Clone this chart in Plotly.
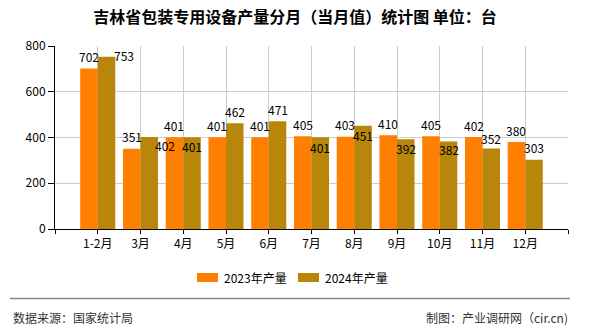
import plotly.graph_objects as go

# Monthly output data (units: 台)
categories = ["1-2月", "3月", "4月", "5月", "6月", "7月", "8月", "9月", "10月", "11月", "12月"]
output_2023 = [702, 351, 401, 401, 401, 405, 403, 410, 405, 402, 380]
output_2024 = [753, 402, 401, 462, 471, 401, 451, 392, 382, 352, 303]
series_names = ["2023年产量", "2024年产量"]
y_ticks = [0, 200, 400, 600, 800]

# Styling
COLOR_2023 = "#FF8000"
COLOR_2024 = "#B8860B"
FONT = "SimSun, 'Noto Sans CJK SC', sans-serif"
W, H = 590, 330
L, R, T, B = 55, 22, 46, 101
BARGAP = 0.18
# label offsets (px) relative to the top centre of each 2024 bar
label_shift_2024 = [(17, 1), (16, -8), (0, -9), (0, 12), (0, 12), (0, -10),
                    (0, -10), (0, -9), (0, -8), (0, 10), (0, 12)]

xs = list(range(len(categories)))
half = (1 - BARGAP) / 4  # centre offset of each bar inside a group

fig = go.Figure()
fig.add_trace(go.Bar(x=xs, y=output_2023, name=series_names[0],
                     marker=dict(color=COLOR_2023, line=dict(width=0)), showlegend=False))
fig.add_trace(go.Bar(x=xs, y=output_2024, name=series_names[1],
                     marker=dict(color=COLOR_2024, line=dict(width=0)), showlegend=False))

annotations = []
for i, v in enumerate(output_2023):
    annotations.append(dict(x=i - half, y=v, xref="x", yref="y", text=str(v),
                            showarrow=False, yanchor="middle", xanchor="center",
                            yshift=12, font=dict(family=FONT, size=12, color="#000")))
for i, v in enumerate(output_2024):
    dx, dy = label_shift_2024[i]
    annotations.append(dict(x=i + half, y=v, xref="x", yref="y", text=str(v),
                            showarrow=False, yanchor="middle", xanchor="center",
                            xshift=dx, yshift=dy, font=dict(family=FONT, size=12, color="#000")))

pw, ph = W - L - R, H - T - B
def px(x):
    return (x - L) / pw
def py(y):
    return (H - B - y) / ph

shapes = []
# custom legend
legend_items = [(197, COLOR_2023, series_names[0]), (298, COLOR_2024, series_names[1])]
for x0, col, name in legend_items:
    shapes.append(dict(type="rect", xref="paper", yref="paper",
                       x0=px(x0), x1=px(x0 + 21), y0=py(282), y1=py(273),
                       fillcolor=col, line=dict(width=0)))
    annotations.append(dict(x=px(x0 + 25), y=py(277.5), xref="paper", yref="paper",
                            text=name, showarrow=False, xanchor="left", yanchor="middle",
                            font=dict(family=FONT, size=12, color="#000")))
# footer separator
shapes.append(dict(type="line", xref="paper", yref="paper",
                   x0=px(10), x1=px(570), y0=py(298.5), y1=py(298.5),
                   line=dict(color="#888888", width=1.5)))
annotations.append(dict(x=px(11), y=py(317), xref="paper", yref="paper",
                        text="数据来源：国家统计局", showarrow=False,
                        xanchor="left", yanchor="middle",
                        font=dict(family=FONT, size=12, color="#333")))
annotations.append(dict(x=px(570), y=py(317), xref="paper", yref="paper",
                        text="制图：产业调研网（cir.cn)", showarrow=False,
                        xanchor="right", yanchor="middle",
                        font=dict(family=FONT, size=12, color="#333")))

fig.update_layout(
    width=W, height=H,
    margin=dict(l=L, r=R, t=T, b=B, pad=0),
    paper_bgcolor="white", plot_bgcolor="white",
    barmode="group", bargap=BARGAP, bargroupgap=0,
    title=dict(text="<b>吉林省包装专用设备产量分月（当月值）统计图 单位：台</b>",
               x=0.5, xref="container", xanchor="center",
               y=1 - 17 / H, yref="container", yanchor="middle",
               font=dict(family=FONT, size=16, color="#000")),
    xaxis=dict(range=[-1, len(categories)],
               tickmode="array", tickvals=list(range(-1, len(categories) + 1)),
               ticktext=[""] + categories + [""],
               showgrid=True, gridcolor="#cccccc", gridwidth=1,
               showline=True, linecolor="#000", linewidth=1,
               ticks="outside", ticklen=4, tickcolor="#000",
               tickfont=dict(family=FONT, size=12, color="#000"),
               zeroline=False, fixedrange=True),
    yaxis=dict(range=[0, 800], tickmode="array", tickvals=y_ticks,
               showgrid=True, gridcolor="#cccccc", gridwidth=1,
               showline=True, linecolor="#000", linewidth=1,
               ticks="outside", ticklen=6, tickcolor="#000",
               tickfont=dict(family=FONT, size=12, color="#000"),
               zeroline=False, fixedrange=True),
    shapes=shapes,
    annotations=annotations,
    showlegend=False,
)

fig.write_html("out.html")
